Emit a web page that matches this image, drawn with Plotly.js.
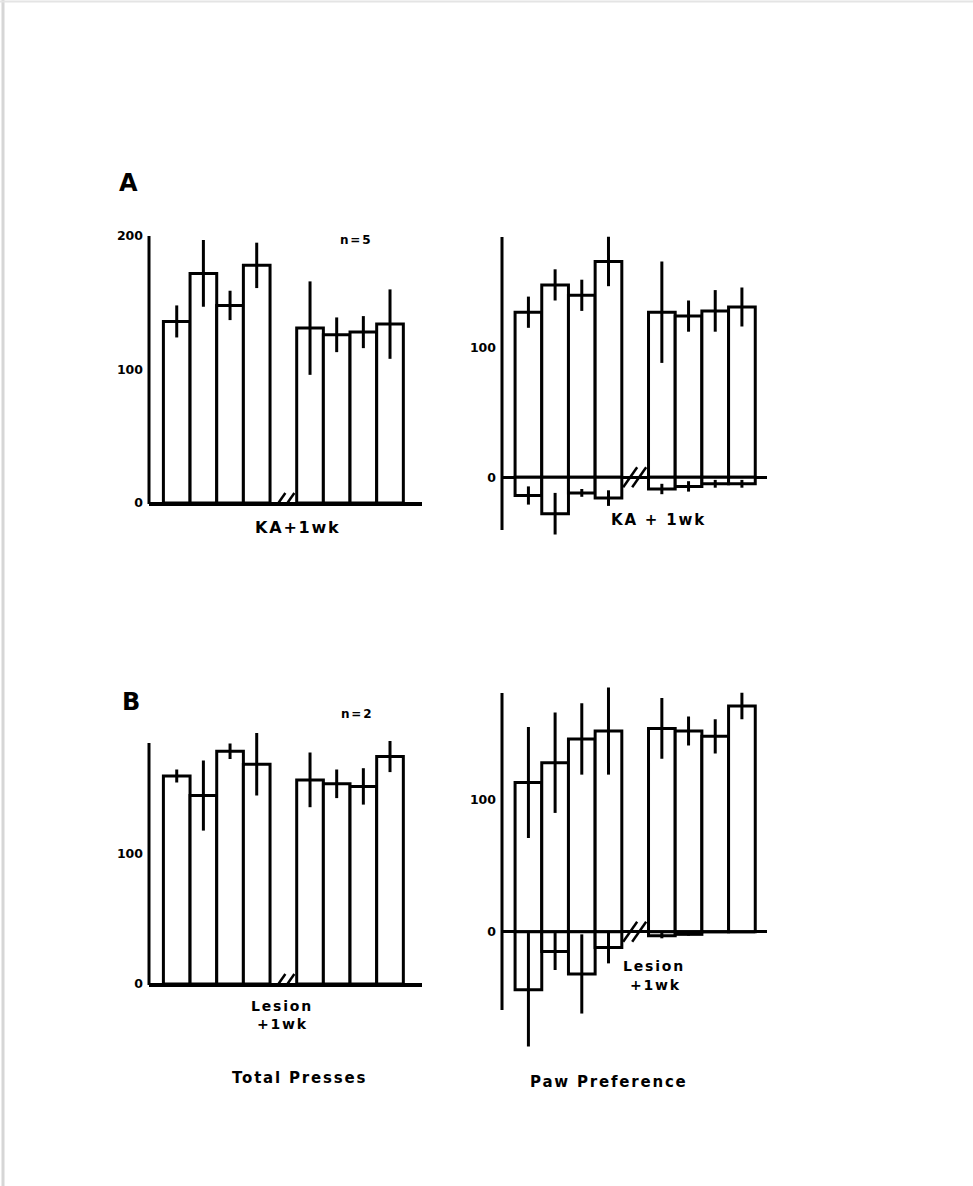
<!DOCTYPE html>
<html>
<head>
<meta charset="utf-8">
<script src="https://cdn.plot.ly/plotly-3.0.1.min.js"></script>
<style>
  html, body { margin: 0; padding: 0; background: #ffffff; }
  #chart { width: 973px; height: 1186px; }
  .annotation-text { letter-spacing: 1.8px; }
</style>
</head>
<body>
<div id="chart"></div>
<script>
// ---------- data ----------
const sessions = ["Pre 1", "Pre 2", "Pre 3", "Pre 4", "Post 1", "Post 2", "Post 3", "Post 4"];

// Panel A (KA, n=5)
const aTotal      = [136, 172, 148, 178, 131, 126, 128, 134];
const aTotalErr   = [12, 25, 11, 17, 35, 13, 12, 26];
const aPawPos     = [127, 148, 140, 166, 127, 124, 128, 131];
const aPawPosErr  = [12, 12, 12, 19, 39, 12, 16, 15];
const aPawNeg     = [-14, -28, -12, -16, -9, -7, -5, -5];
const aPawNegErr  = [7, 16, 3, 6, 4, 4, 3, 3];

// Panel B (Lesion, n=2)
const bTotal      = [160, 145, 179, 169, 157, 154, 152, 175];
const bTotalErr   = [5, 27, 6, 24, 21, 11, 14, 12];
const bPawPos     = [113, 128, 146, 152, 154, 152, 148, 171];
const bPawPosErr  = [42, 38, 27, 33, 23, 11, 13, 10];
const bPawNeg     = [-44, -15, -32, -12, -3, -2, 0, 0];
const bPawNegErr  = [43, 14, 30, 12, 2, 1, 0, 0];

const yTicksLeftA  = [0, 100, 200];
const yTicksOther  = [0, 100];

// ---------- helpers ----------
const W = 973, H = 1186;
const px = v => v / W;
const py = v => 1 - v / H;
// slot positions: pre sessions before the axis break, post sessions after it
const slots = sessions.map((s, i) => i < 4 ? i : i + 1);
const breakSlot = 4;

function barTrace(vals, errs, xa, ya) {
  return {
    type: 'bar', x: slots, y: vals, xaxis: xa, yaxis: ya, width: 1,
    marker: { color: '#ffffff', line: { color: '#000000', width: 3 } },
    error_y: { type: 'data', array: errs, visible: true, color: '#000000', thickness: 3, width: 0 },
    hoverinfo: 'skip', showlegend: false
  };
}

const data = [
  barTrace(aTotal, aTotalErr, 'x', 'y'),
  barTrace(aPawPos, aPawPosErr, 'x2', 'y2'),
  barTrace(aPawNeg, aPawNegErr, 'x2', 'y2'),
  barTrace(bTotal, bTotalErr, 'x3', 'y3'),
  barTrace(bPawPos, bPawPosErr, 'x4', 'y4'),
  barTrace(bPawNeg, bPawNegErr, 'x4', 'y4')
];

const tickFont = { family: 'DejaVu Sans', size: 12.5, color: '#000', weight: 'bold' };

function xAxis(domainPx, range, anchor, showline) {
  return {
    domain: [px(domainPx[0]), px(domainPx[1])], range: range, anchor: anchor,
    showgrid: false, zeroline: false, showticklabels: false, ticks: '',
    showline: showline, linecolor: '#000', linewidth: 3, fixedrange: true
  };
}
function yAxis(domainPx, range, anchor, tickvals) {
  return {
    domain: [py(domainPx[1]), py(domainPx[0])], range: range, anchor: anchor,
    showgrid: false, zeroline: true, zerolinecolor: '#000', zerolinewidth: 3,
    showline: false, ticks: '',
    tickvals: tickvals, ticktext: tickvals.map(String), tickfont: tickFont,
    ticklabelstandoff: 5, fixedrange: true
  };
}
// vertical axis line drawn over its own pixel extent
function yLine(xPx, topPx, botPx) {
  return { type: 'line', xref: 'paper', yref: 'paper',
           x0: px(xPx), x1: px(xPx), y0: py(botPx), y1: py(topPx),
           line: { color: '#000', width: 3 } };
}

function breakMarks(xref, yref) {
  const mk = off => ({
    type: 'line', xref: xref, yref: yref,
    xsizemode: 'pixel', xanchor: breakSlot, ysizemode: 'pixel', yanchor: 0,
    x0: off - 7, x1: off + 7, y0: -10, y1: 10,
    line: { color: '#000', width: 2.5 }
  });
  return [mk(-5), mk(4)];
}

const bold = (size) => ({ family: 'DejaVu Sans', size: size, color: '#000', weight: 'bold' });
function ann(text, x, y, size, xanchor) {
  return { text: text, x: px(x), y: py(y), xref: 'paper', yref: 'paper',
           showarrow: false, font: bold(size), xanchor: xanchor || 'center', yanchor: 'middle' };
}

const layout = {
  width: W, height: H,
  margin: { l: 0, r: 0, t: 0, b: 0 },
  paper_bgcolor: '#ffffff', plot_bgcolor: 'rgba(0,0,0,0)',
  barmode: 'overlay', showlegend: false,
  xaxis:  xAxis([149, 422], [-1.04, 9.2], 'y', true),
  yaxis:  yAxis([236, 503], [0, 200], 'x', yTicksLeftA),
  xaxis2: xAxis([502, 767], [-0.99, 8.94], 'y2', false),
  yaxis2: yAxis([230.3, 537.1], [-46, 190], 'x2', yTicksOther),
  xaxis3: xAxis([149, 422], [-1.04, 9.2], 'y3', true),
  yaxis3: yAxis([730.5, 984], [0, 195], 'x3', yTicksOther),
  xaxis4: xAxis([502, 767], [-0.99, 8.94], 'y4', false),
  yaxis4: yAxis([686.2, 1050.5], [-90, 186], 'x4', yTicksOther),
  shapes: [].concat(
    [yLine(149, 236, 504), yLine(502, 237, 530), yLine(149, 743, 985), yLine(502, 693, 1010)],
    breakMarks('x', 'y'), breakMarks('x2', 'y2'),
    breakMarks('x3', 'y3'), breakMarks('x4', 'y4'),
    [
      { type: 'line', xref: 'paper', yref: 'paper', x0: px(3), x1: px(3), y0: 0, y1: 1,
        line: { color: '#d6d6d6', width: 3 } },
      { type: 'line', xref: 'paper', yref: 'paper', x0: 0, x1: 1, y0: py(1.5), y1: py(1.5),
        line: { color: '#e4e4e4', width: 2 } }
    ]
  ),
  annotations: [
    ann('A', 129, 183, 24),
    ann('n=5', 356, 240, 12),
    ann('KA+1wk', 298, 527, 16),
    ann('KA + 1wk', 658, 520, 15),
    ann('B', 132, 702, 24),
    ann('n=2', 357, 714, 12),
    ann('Lesion', 282, 1006, 14),
    ann('+1wk', 282, 1024, 14),
    ann('Lesion', 654, 966, 14),
    ann('+1wk', 655, 985, 14),
    ann('Total Presses', 299, 1078, 15),
    ann('Paw Preference', 609, 1082, 15)
  ]
};

Plotly.newPlot('chart', data, layout, { staticPlot: true, displayModeBar: false });
</script>
</body>
</html>
